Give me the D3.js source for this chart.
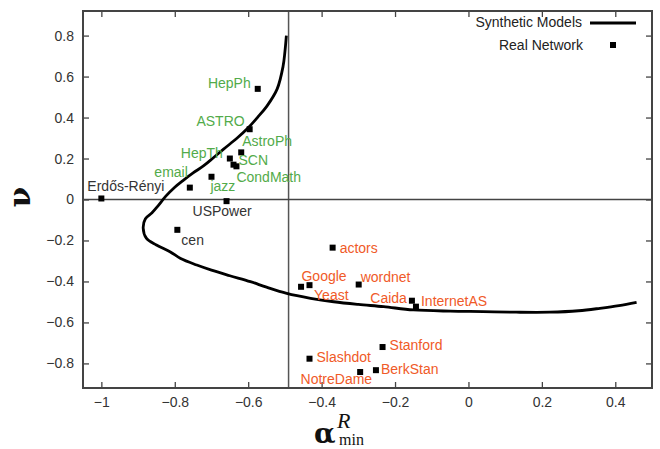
<!DOCTYPE html>
<html>
<head>
<meta charset="utf-8">
<script src="https://cdn.jsdelivr.net/npm/d3@7"></script>
<style>
  body { margin: 0; background: #fff; }
  .tick text { font-family: "Liberation Sans", Arial, sans-serif; font-size: 14px; fill: #333; }
  .lbl { font-family: "Liberation Sans", Arial, sans-serif; font-size: 14px; }
</style>
</head>
<body>
<svg id="chart"></svg>
<script>
// real networks: name, alpha_min^R, nu, group
const names = ["Erdős-Rényi", "HepPh", "ASTRO", "AstroPh", "HepTh", "SCN", "CondMath",
  "email", "jazz", "USPower", "cen", "actors", "Google", "Yeast", "wordnet",
  "Caida", "InternetAS", "Stanford", "Slashdot", "BerkStan", "NotreDame"];
const alphaVals = [-1.0, -0.574, -0.596, -0.619, -0.65, -0.64, -0.632,
  -0.759, -0.70, -0.659, -0.793, -0.37, -0.433, -0.456, -0.299,
  -0.154, -0.143, -0.234, -0.433, -0.252, -0.295];
const nuVals = [0.005, 0.54, 0.343, 0.23, 0.2, 0.17, 0.162,
  0.058, 0.111, -0.008, -0.148, -0.235, -0.418, -0.426, -0.415,
  -0.494, -0.523, -0.72, -0.777, -0.833, -0.842];
const groups = ["ref", "soc", "soc", "soc", "soc", "soc", "soc",
  "soc", "soc", "ref", "ref", "dis", "dis", "dis", "dis",
  "dis", "dis", "dis", "dis", "dis", "dis"];

// synthetic models curve (alpha, nu)
const curveAlpha = [-0.496, -0.5, -0.505, -0.521, -0.549, -0.575, -0.6, -0.63, -0.667, -0.694,
  -0.721, -0.75, -0.776, -0.8, -0.825, -0.845, -0.862, -0.88, -0.886, -0.877, -0.85, -0.812,
  -0.784, -0.74, -0.7, -0.65, -0.594, -0.55, -0.495, -0.43, -0.367, -0.3, -0.231, -0.15,
  -0.05, 0.04, 0.13, 0.222, 0.3, 0.358, 0.41, 0.458];
const curveNu = [0.8, 0.72, 0.65, 0.54, 0.456, 0.4, 0.35, 0.3, 0.246, 0.205,
  0.165, 0.13, 0.095, 0.06, 0.015, -0.03, -0.065, -0.094, -0.14, -0.19, -0.222, -0.256,
  -0.288, -0.32, -0.345, -0.372, -0.401, -0.428, -0.458, -0.482, -0.499, -0.512, -0.523, -0.539,
  -0.545, -0.547, -0.55, -0.55, -0.543, -0.531, -0.518, -0.502];

const xTicks = [-1, -0.8, -0.6, -0.4, -0.2, 0, 0.2, 0.4];
const yTicks = [-0.8, -0.6, -0.4, -0.2, 0, 0.2, 0.4, 0.6, 0.8];
const vLine = -0.49;
const hLine = 0;

// label placement: [dx, dy, anchor] relative to the marker
const labelPos = {
  "Erdős-Rényi": [-14, -7, "start"], "HepPh": [-7, -1, "end"], "ASTRO": [-5, -3, "end"],
  "AstroPh": [1, -6, "start"], "HepTh": [-7, -1, "end"], "SCN": [5, 0, "start"],
  "CondMath": [0, 16, "start"], "email": [-2, -11, "end"], "jazz": [-1, 14, "start"],
  "USPower": [-34, 15, "start"], "cen": [4, 15, "start"], "actors": [7, 5, "start"],
  "Google": [-8, -4, "start"], "Yeast": [13, 13, "start"], "wordnet": [2, -3, "start"],
  "Caida": [-5, 2, "end"], "InternetAS": [5, -1, "start"], "Stanford": [7, 3, "start"],
  "Slashdot": [7, 3, "start"], "BerkStan": [5, 4, "start"], "NotreDame": [12, 12, "end"]
};
const groupColor = { ref: "#333", soc: "#52ab4a", dis: "#f05a28" };

const width = 660, height = 449;
const margin = { top: 11, right: 8, bottom: 61, left: 83 };

const x = d3.scaleLinear().domain([-1.05, 0.5]).range([margin.left, width - margin.right]);
const y = d3.scaleLinear().domain([-0.92, 0.92]).range([height - margin.bottom, margin.top]);

const svg = d3.select("#chart").attr("width", width).attr("height", height);
svg.append("rect").attr("width", width).attr("height", height).attr("fill", "#fff");

// axes with inward ticks on all four sides
svg.append("g")
  .attr("transform", `translate(0,${height - margin.bottom})`)
  .call(d3.axisBottom(x).tickValues(xTicks).tickSize(-6).tickPadding(9).tickFormat(d3.format("")));
svg.append("g")
  .attr("transform", `translate(${margin.left},0)`)
  .call(d3.axisLeft(y).tickValues(yTicks).tickSize(-6).tickPadding(9).tickFormat(d3.format("")));
svg.append("g")
  .attr("transform", `translate(0,${margin.top})`)
  .call(d3.axisTop(x).tickValues(xTicks).tickSize(-6).tickFormat(""));
svg.append("g")
  .attr("transform", `translate(${width - margin.right},0)`)
  .call(d3.axisRight(y).tickValues(yTicks).tickSize(-6).tickFormat(""));

svg.selectAll(".domain").remove();
svg.selectAll(".tick line").attr("stroke", "#444").attr("stroke-width", 1.3);

// reference lines
svg.append("line")
  .attr("x1", x(vLine)).attr("x2", x(vLine))
  .attr("y1", y.range()[1]).attr("y2", y.range()[0])
  .attr("stroke", "#555").attr("stroke-width", 1.5);
svg.append("line")
  .attr("x1", x.range()[0]).attr("x2", x.range()[1])
  .attr("y1", y(hLine)).attr("y2", y(hLine))
  .attr("stroke", "#444").attr("stroke-width", 1.5);

// frame
svg.append("rect")
  .attr("x", margin.left).attr("y", margin.top)
  .attr("width", width - margin.left - margin.right)
  .attr("height", height - margin.top - margin.bottom)
  .attr("fill", "none").attr("stroke", "#444").attr("stroke-width", 2);

// synthetic models curve
const curve = curveAlpha.map((a, i) => [a, curveNu[i]]);
svg.append("path")
  .datum(curve)
  .attr("fill", "none")
  .attr("stroke", "#000")
  .attr("stroke-width", 2.8)
  .attr("d", d3.line().x((d) => x(d[0])).y((d) => y(d[1])).curve(d3.curveCatmullRom));

// real networks
const nets = names.map((n, i) => ({ name: n, a: alphaVals[i], v: nuVals[i], g: groups[i] }));
svg.selectAll("rect.pt")
  .data(nets)
  .enter()
  .append("rect")
  .attr("class", "pt")
  .attr("x", (d) => x(d.a) - 3)
  .attr("y", (d) => y(d.v) - 3)
  .attr("width", 6).attr("height", 6)
  .attr("fill", "#000");

svg.selectAll("text.lbl")
  .data(nets)
  .enter()
  .append("text")
  .attr("class", "lbl")
  .attr("x", (d) => x(d.a) + labelPos[d.name][0])
  .attr("y", (d) => y(d.v) + labelPos[d.name][1])
  .attr("text-anchor", (d) => labelPos[d.name][2])
  .attr("fill", (d) => groupColor[d.g])
  .text((d) => d.name);

// legend
const lg = svg.append("g").attr("class", "lbl").attr("fill", "#222");
lg.append("text").attr("x", 582).attr("y", 27).attr("text-anchor", "end").text("Synthetic Models");
lg.append("line").attr("x1", 590).attr("x2", 636).attr("y1", 23).attr("y2", 23)
  .attr("stroke", "#000").attr("stroke-width", 2.8);
lg.append("text").attr("x", 583).attr("y", 50).attr("text-anchor", "end").text("Real Network");
lg.append("rect").attr("x", 610).attr("y", 42).attr("width", 6).attr("height", 6).attr("fill", "#000");

// axis titles
svg.append("text")
  .attr("transform", "translate(30,197) rotate(-90)")
  .attr("text-anchor", "middle")
  .attr("font-family", "'DejaVu Serif', serif")
  .attr("font-weight", "bold")
  .attr("font-size", 30)
  .attr("fill", "#111")
  .text("ν");

const xt = svg.append("g").attr("font-family", "'DejaVu Serif', 'Liberation Serif', serif").attr("fill", "#111");
xt.append("text").attr("x", 314).attr("y", 443).attr("font-size", 28).attr("font-weight", "bold").text("α");
xt.append("text").attr("x", 337).attr("y", 428).attr("font-size", 22).attr("font-style", "italic")
  .attr("font-family", "'Liberation Serif', serif").text("R");
xt.append("text").attr("x", 339).attr("y", 445).attr("font-size", 16)
  .attr("font-family", "'Liberation Serif', serif").text("min");
</script>
</body>
</html>
